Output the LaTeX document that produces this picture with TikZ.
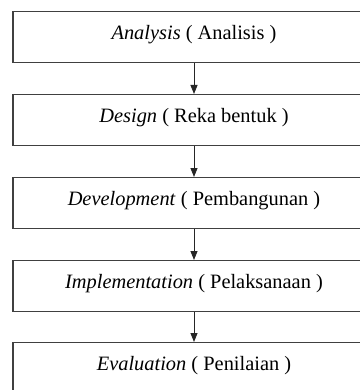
\documentclass[tikz,border=0pt]{standalone}
\usepackage{fontspec}
\setmainfont{Liberation Serif}
\usetikzlibrary{arrows.meta}
\tikzset{
  stagebox/.style={draw=black!75, line width=1.2pt, fill=white, anchor=north,
    minimum width=362pt, inner xsep=0pt, inner ysep=0pt,
    text height=28pt, text depth=23pt, font=\fontsize{20.4}{24}\selectfont},
  flowarrow/.style={draw=black!85, line width=0.9pt,
    -{Triangle[width=7pt,length=9pt]}}
}
\begin{document}
\begin{tikzpicture}[x=1pt,y=-1pt]
\useasboundingbox (0,0) rectangle (359,390);
\node[stagebox] (analysis) at (194,11) {\textit{Analysis} ( Analisis )};
\node[stagebox] (design) at (194,94) {\textit{Design} ( Reka bentuk )};
\node[stagebox] (development) at (194,177) {\textit{Development} ( Pembangunan )};
\node[stagebox] (implementation) at (194,260) {\textit{Implementation} ( Pelaksanaan )};
\node[stagebox] (evaluation) at (194,342) {\textit{Evaluation} ( Penilaian )};
\draw[flowarrow] (analysis.south) -- (design.north);
\draw[flowarrow] (design.south) -- (development.north);
\draw[flowarrow] (development.south) -- (implementation.north);
\draw[flowarrow] (implementation.south) -- (evaluation.north);
\end{tikzpicture}
\end{document}
